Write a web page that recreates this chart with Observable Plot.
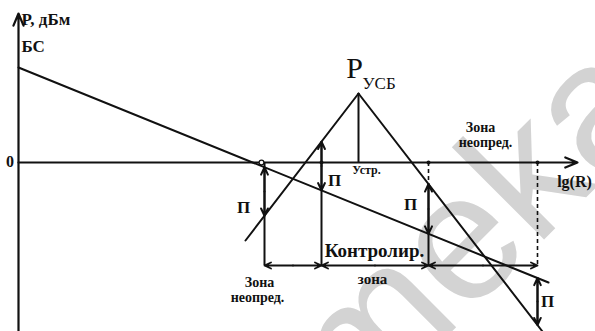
<!DOCTYPE html>
<html><head><meta charset="utf-8">
<script src="https://cdn.jsdelivr.net/npm/d3@7"></script>
<script src="https://cdn.jsdelivr.net/npm/@observablehq/plot@0.6"></script>
<style>
body{margin:0;background:#fff}
#chart svg{display:block}
</style>
</head><body><div id="chart"></div>
<script>
// Schematic values: x = lg(R) (arbitrary units), y = P, dBm (arbitrary units)
const bsLine   = [{x: 0,    y: 9.5}, {x: 10.6,  y: -12.0}];   // БС path-loss line
const riseLine = [{x: 4.54, y: -7.8}, {x: 6.8,  y: 6.9}];     // УСБ rising side
const fallLine = [{x: 6.8,  y: 6.9},  {x: 10.48, y: -16.9}];  // УСБ falling side
const apex     = [{x: 6.8,  y: 6.9}];                          // P_УСБ at Устр.
const zoneBounds = [4.92, 6.06, 8.2, 10.38];                   // zone boundaries on lg(R)
const dimLevel = -10.3;                                        // level of zone dimension line
const axisDots = [4.86, 6.06, 8.2, 10.38];
const xAxisEnd = 11.18, yAxisTop = 14.9, yAxisBottom = -16.9;
const labelAxisY = "P, дБм", labelBS = "БС", labelZero = "0", labelAxisX = "lg(R)";
const labelP = "P", labelSub = "УСБ", labelUstr = "Устр.", labelPi = "П";
const labelZone = "Зона", labelUndef = "неопред.", labelCtrl = "Контролир.", labelZone2 = "зона";
const watermark = "meka";

const at = (line, x) => {
  const [a, b] = line;
  return a.y + (b.y - a.y) * (x - a.x) / (b.x - a.x);
};
const [b0, b1, b2, b3] = zoneBounds;

const solidV = [
  {x: b0, y1: 0, y2: dimLevel},
  {x: b1, y1: at(riseLine, b1), y2: dimLevel},
  {x: b2, y1: at(fallLine, b2), y2: dimLevel},
  {x: apex[0].x, y1: apex[0].y, y2: 0},
  {x: b3, y1: at(bsLine, b3), y2: at(fallLine, b3)}
];
const dashedV = [
  {x: b2, y1: 0, y2: at(fallLine, b2)},
  {x: b3, y1: 0, y2: dimLevel}
];
const piPairs = [
  {x: b0, ya: at(bsLine, b0), yb: at(riseLine, b0)},
  {x: b1, ya: at(riseLine, b1), yb: at(bsLine, b1)},
  {x: b2, ya: at(fallLine, b2), yb: at(bsLine, b2)},
  {x: b3, ya: at(bsLine, b3), yb: at(fallLine, b3)}
];
const piArrows = piPairs.flatMap(d => {
  const m = (d.ya + d.yb) / 2;
  return [{x1: d.x, y1: m, x2: d.x, y2: d.ya}, {x1: d.x, y1: m, x2: d.x, y2: d.yb}];
});
const dimArrows = d3.pairs(zoneBounds).flatMap(([a, b]) => {
  const m = (a + b) / 2;
  return [{x1: m, y1: dimLevel, x2: a, y2: dimLevel}, {x1: m, y1: dimLevel, x2: b, y2: dimLevel}];
});

const ink = "#111";
const serif = "Liberation Serif, DejaVu Serif, serif";
const T = (x, y, text, size, opts = {}) => Plot.text([{x, y}], {
  x: "x", y: "y", text: () => text, fontSize: size, fontFamily: serif,
  fontWeight: "bold", fill: ink, ...opts
});

const chart = Plot.plot({
  width: 595, height: 331,
  margin: 0,
  x: {domain: [-0.36, 11.54], axis: null},
  y: {domain: [-16.9, 16.2], axis: null},
  marks: [
    Plot.text([{x: 9.1, y: -6.6}], {x: "x", y: "y", text: () => watermark, fontSize: 180,
      fontFamily: "Liberation Sans, Arial, sans-serif", fill: "#d3d3d3", rotate: -45}),
    Plot.arrow([{x1: 0, y1: yAxisBottom, x2: 0, y2: yAxisTop}], {x1: "x1", y1: "y1", x2: "x2", y2: "y2",
      stroke: ink, strokeWidth: 2.2, headLength: 9, headAngle: 45}),
    Plot.arrow([{x1: 0, y1: 0, x2: xAxisEnd, y2: 0}], {x1: "x1", y1: "y1", x2: "x2", y2: "y2",
      stroke: ink, strokeWidth: 2.2, headLength: 9, headAngle: 45}),
    Plot.line(bsLine, {x: "x", y: "y", stroke: ink, strokeWidth: 2}),
    Plot.line(riseLine, {x: "x", y: "y", stroke: ink, strokeWidth: 2}),
    Plot.line(fallLine, {x: "x", y: "y", stroke: ink, strokeWidth: 2}),
    Plot.ruleX(solidV, {x: "x", y1: "y1", y2: "y2", stroke: ink, strokeWidth: 2}),
    Plot.ruleX(dashedV, {x: "x", y1: "y1", y2: "y2", stroke: ink, strokeWidth: 1.6, strokeDasharray: "4,3"}),
    Plot.arrow(piArrows, {x1: "x1", y1: "y1", x2: "x2", y2: "y2", stroke: ink, strokeWidth: 2, headLength: 7, headAngle: 50}),
    Plot.arrow(dimArrows, {x1: "x1", y1: "y1", x2: "x2", y2: "y2", stroke: ink, strokeWidth: 1.8, headLength: 6, headAngle: 50}),
    Plot.dot(axisDots.slice(0, 1), {x: d => d, y: 0, r: 2.4, fill: "white", stroke: ink, strokeWidth: 1.2}),
    Plot.dot(axisDots.slice(1), {x: d => d, y: 0, r: 2, fill: ink}),
    T(0.06, 14.3, labelAxisY, 17, {textAnchor: "start"}),
    T(0.06, 11.55, labelBS, 17, {textAnchor: "start"}),
    T(-0.17, 0.1, labelZero, 16),
    T(6.72, 9.4, labelP, 30, {fontWeight: "normal"}),
    T(6.88, 7.85, labelSub, 17, {fontWeight: "normal", textAnchor: "start"}),
    T(6.96, -0.8, labelUstr, 12),
    T(4.5, -4.5, labelPi, 17),
    T(6.32, -1.85, labelPi, 17),
    T(7.84, -4.2, labelPi, 17),
    T(10.58, -13.9, labelPi, 17),
    T(11.12, -1.9, labelAxisX, 16),
    T(9.24, 3.5, labelZone, 14),
    T(9.34, 2.0, labelUndef, 14),
    T(7.12, -8.8, labelCtrl, 19),
    T(7.08, -11.7, labelZone2, 15),
    T(4.82, -12.0, labelZone, 14),
    T(4.78, -13.5, labelUndef, 14)
  ]
});
document.getElementById("chart").append(chart);
</script>
</body></html>
